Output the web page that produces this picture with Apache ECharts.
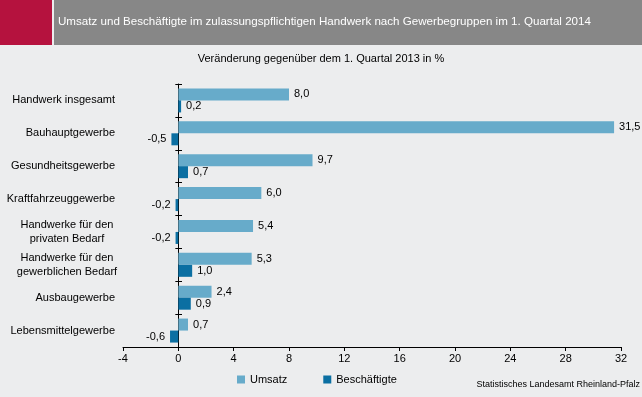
<!DOCTYPE html>
<html>
<head>
<meta charset="utf-8">
<script src="https://cdn.jsdelivr.net/npm/echarts@6/dist/echarts.min.js"></script>
<style>
html, body { margin: 0; padding: 0; background: #ecedee; }
#main { width: 642px; height: 397px; }
</style>
</head>
<body>
<div id="main"></div>
<script>
var categories = [
    'Handwerk insgesamt',
    'Bauhauptgewerbe',
    'Gesundheitsgewerbe',
    'Kraftfahrzeuggewerbe',
    'Handwerke für den\nprivaten Bedarf',
    'Handwerke für den\ngewerblichen Bedarf',
    'Ausbaugewerbe',
    'Lebensmittelgewerbe'
];
var umsatz = [8.0, 31.5, 9.7, 6.0, 5.4, 5.3, 2.4, 0.7];
var beschaeftigte = [0.2, -0.5, 0.7, -0.2, -0.2, 1.0, 0.9, -0.6];
var xTicks = [-4, 0, 4, 8, 12, 16, 20, 24, 28, 32];

var font = '"Liberation Sans", Arial, sans-serif';

function fmt(v) {
    return v.toFixed(1).replace('.', ',');
}

function toData(arr) {
    return arr.map(function (v) {
        return {
            value: v,
            label: { position: v < 0 ? 'left' : 'right' }
        };
    });
}

var chart = echarts.init(document.getElementById('main'), null, { renderer: 'canvas' });

var option = {
    backgroundColor: '#ecedee',
    animation: false,
    textStyle: { fontFamily: font },
    graphic: [
        { type: 'rect', shape: { x: 0, y: 0, width: 52, height: 45 }, style: { fill: '#b5123e' } },
        { type: 'rect', shape: { x: 54, y: 0, width: 588, height: 45 }, style: { fill: '#878787' } },
        {
            type: 'text', left: 58, top: 16,
            style: {
                text: 'Umsatz und Beschäftigte im zulassungspflichtigen Handwerk nach Gewerbegruppen im 1. Quartal 2014',
                fill: '#ffffff', font: '11.6px ' + font
            }
        },
        {
            type: 'text', left: 'center', top: 53,
            style: {
                text: 'Veränderung gegenüber dem 1. Quartal 2013 in %',
                fill: '#000000', font: '11px ' + font
            }
        },
        {
            type: 'text', right: 2, top: 380,
            style: {
                text: 'Statistisches Landesamt Rheinland-Pfalz',
                fill: '#000000', font: '9px ' + font
            }
        }
    ],
    legend: {
        left: 232, top: 369,
        itemWidth: 8, itemHeight: 8, itemGap: 36,
        icon: 'rect',
        textStyle: { fontSize: 11, color: '#000', fontFamily: font },
        data: ['Umsatz', 'Beschäftigte']
    },
    grid: { left: 123, right: 21, top: 84, bottom: 50, containLabel: false, outerBoundsMode: 'none' },
    xAxis: {
        type: 'value',
        min: -4, max: 32, interval: 4,
        axisLine: { show: true, lineStyle: { color: '#000' } },
        axisTick: { show: true, length: 4, lineStyle: { color: '#000' } },
        splitLine: { show: false },
        axisLabel: {
            color: '#000', fontSize: 11, margin: 6,
            formatter: function (v) { return xTicks.indexOf(v) >= 0 ? String(v) : ''; }
        }
    },
    yAxis: [
        {
            type: 'category',
            inverse: true,
            position: 'left',
            data: categories,
            axisLine: { show: true, onZero: true, lineStyle: { color: '#000' } },
            axisTick: { show: true, length: 3, lineStyle: { color: '#000' } },
            axisLabel: {
                color: '#000', fontSize: 11, margin: 8, lineHeight: 14,
                formatter: function (v) {
                    if (v.indexOf('\n') < 0) return v;
                    return v.split('\n').map(function (s) { return '{c|' + s + '}'; }).join('\n');
                },
                rich: {
                    c: { width: 96, align: 'center', fontSize: 11, color: '#000', lineHeight: 14 }
                }
            }
        },
        {
            type: 'category',
            inverse: true,
            position: 'left',
            offset: -56,
            data: categories,
            axisLine: { show: false, onZero: false },
            axisTick: { show: true, inside: true, length: 3, lineStyle: { color: '#000' } },
            axisLabel: { show: false }
        }
    ],
    series: [
        {
            name: 'Umsatz',
            type: 'bar',
            data: toData(umsatz),
            barWidth: 12,
            barGap: '0%',
            itemStyle: { color: '#67abca' },
            label: {
                show: true, color: '#000', fontSize: 11, distance: 5,
                formatter: function (p) { return fmt(p.value); }
            }
        },
        {
            name: 'Beschäftigte',
            type: 'bar',
            data: toData(beschaeftigte),
            barWidth: 12,
            barGap: '0%',
            itemStyle: { color: '#0b6fa2' },
            label: {
                show: true, color: '#000', fontSize: 11, distance: 5,
                formatter: function (p) { return fmt(p.value); }
            }
        }
    ]
};

chart.setOption(option);
</script>
</body>
</html>
